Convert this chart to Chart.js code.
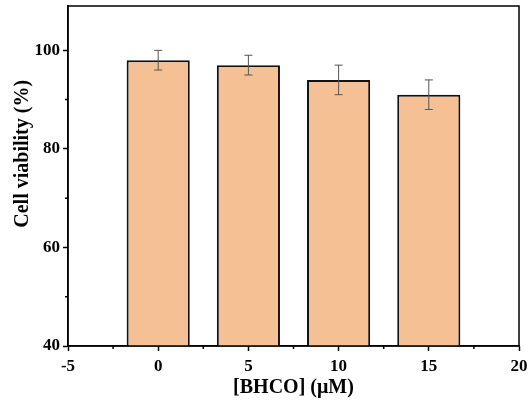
<!DOCTYPE html>
<html>
<head>
<meta charset="utf-8">
<script src="https://cdn.jsdelivr.net/npm/chart.js@4"></script>
<style>
  html, body { margin: 0; padding: 0; background: #fff; }
  #wrap { width: 530px; height: 406px; }
</style>
</head>
<body>
<div id="wrap"><canvas id="bars"></canvas></div>
<script>
// concentrations and viability
var doses = [0, 5, 10, 15];
var viability = [98, 97, 94, 91];
var errs = [2, 2, 3, 3];
var xTicks = [-5, 0, 5, 10, 15, 20];
var yTicks = [40, 60, 80, 100];

var fontFam = "'Liberation Serif', 'Times New Roman', serif";

// error bars + minor ticks + frame box + y title (sits a bit above centre in the original)
var extras = {
    id: 'extras',
    afterDatasetsDraw: function (chart) {
        var ctx = chart.ctx;
        var xs = chart.scales.x, ys = chart.scales.y;
        ctx.save();
        ctx.strokeStyle = '#555';
        ctx.lineWidth = 1;
        for (var i = 0; i < doses.length; i++) {
            var px = xs.getPixelForValue(doses[i]);
            var hi = ys.getPixelForValue(viability[i] + errs[i]);
            var lo = ys.getPixelForValue(viability[i] - errs[i]);
            ctx.beginPath();
            ctx.moveTo(px, hi); ctx.lineTo(px, lo);
            ctx.moveTo(px - 4, hi); ctx.lineTo(px + 4, hi);
            ctx.moveTo(px - 4, lo); ctx.lineTo(px + 4, lo);
            ctx.stroke();
        }
        ctx.restore();
    },
    afterDraw: function (chart) {
        var ctx = chart.ctx;
        var xs = chart.scales.x, ys = chart.scales.y;
        var area = chart.chartArea;
        ctx.save();
        ctx.strokeStyle = '#000';
        ctx.lineWidth = 1.5;
        ctx.strokeRect(area.left, area.top, area.right - area.left, area.bottom - area.top);
        ctx.beginPath();
        for (var i = 0; i < xTicks.length - 1; i++) {
            var mx = xs.getPixelForValue((xTicks[i] + xTicks[i + 1]) / 2);
            ctx.moveTo(mx, area.bottom); ctx.lineTo(mx, area.bottom + 3);
        }
        for (var j = 0; j < yTicks.length - 1; j++) {
            var my = ys.getPixelForValue((yTicks[j] + yTicks[j + 1]) / 2);
            ctx.moveTo(area.left, my); ctx.lineTo(area.left - 3, my);
        }
        ctx.stroke();

        ctx.translate(23, ys.getPixelForValue(79));
        ctx.rotate(-Math.PI / 2);
        ctx.fillStyle = '#000';
        ctx.font = 'bold 20px ' + fontFam;
        ctx.textAlign = 'center';
        ctx.textBaseline = 'middle';
        ctx.fillText('Cell viability (%)', 0, 0);
        ctx.restore();
    }
};

new Chart(document.getElementById('bars'), {
    type: 'bar',
    data: {
        datasets: [{
            data: doses.map(function (d, i) { return { x: d, y: viability[i] }; }),
            backgroundColor: '#F6C095',
            borderColor: '#111',
            borderWidth: 2,
            borderSkipped: 'bottom',
            barPercentage: 0.7,
            categoryPercentage: 1
        }]
    },
    options: {
        responsive: true,
        maintainAspectRatio: false,
        animation: false,
        layout: { padding: { top: 6, right: 11, left: 0, bottom: 0 } },
        plugins: { legend: { display: false }, tooltip: { enabled: false } },
        scales: {
            x: {
                type: 'linear',
                offset: false,
                min: -5, max: 20,
                afterBuildTicks: function (s) { s.ticks = xTicks.map(function (v) { return { value: v }; }); },
                afterFit: function (s) { s.height = 60; s.paddingLeft = 0; s.paddingRight = 0; },
                grid: { drawOnChartArea: false, offset: false, tickLength: 5, tickColor: '#000', tickWidth: 1.5 },
                border: { color: '#000', width: 1.5 },
                ticks: { color: '#000', padding: 5, font: { family: fontFam, size: 17, weight: 'bold' } },
                title: { display: true, text: '[BHCO] (\u03bcM)', color: '#000',
                         padding: { top: 0, bottom: 6 },
                         font: { family: fontFam, size: 20, weight: 'bold' } }
            },
            y: {
                min: 40, max: 109,
                afterBuildTicks: function (s) { s.ticks = yTicks.map(function (v) { return { value: v }; }); },
                afterFit: function (s) { s.width = 68; s.paddingTop = 0; s.paddingBottom = 0; },
                grid: { drawOnChartArea: false, tickLength: 5, tickColor: '#000', tickWidth: 1.5 },
                border: { color: '#000', width: 1.5 },
                ticks: { color: '#000', padding: 3, font: { family: fontFam, size: 17, weight: 'bold' } },
                title: { display: false }
            }
        }
    },
    plugins: [extras]
});
</script>
</body>
</html>
